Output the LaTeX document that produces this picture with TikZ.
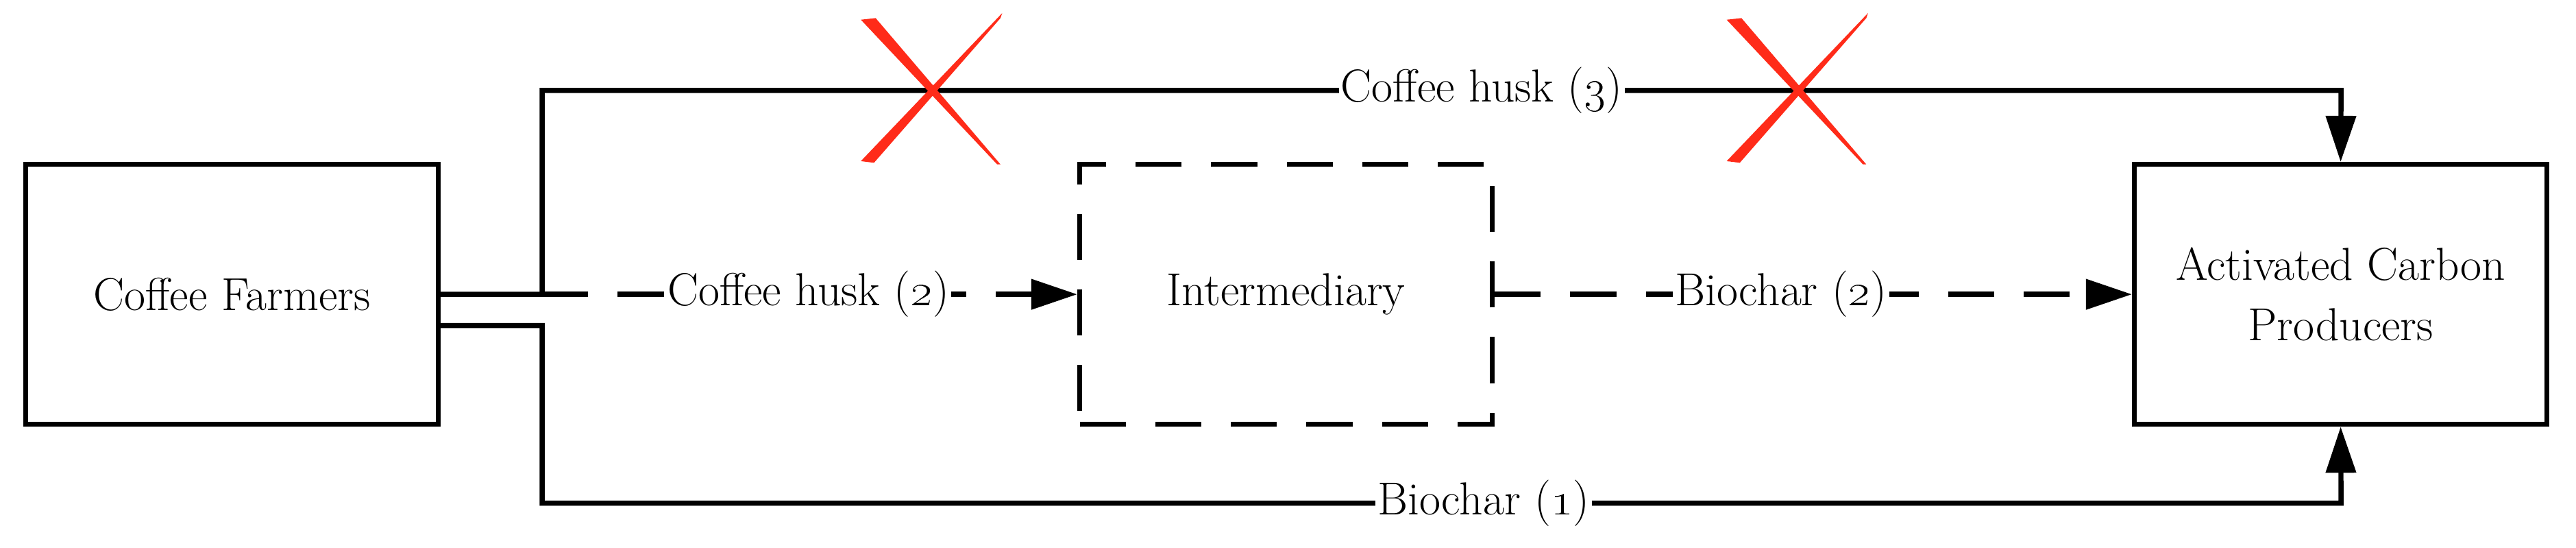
\documentclass[tikz,border=0pt]{standalone}
\usetikzlibrary{arrows.meta}
\begin{document}
\begin{tikzpicture}[x=0.25mm,y=-0.25mm,
  box/.style={draw,line width=2.2pt,minimum width=62.75mm,minimum height=39.5mm,align=center,font=\fontsize{20}{26}\selectfont},
  ln/.style={line width=2.2pt},
  dsh/.style={line width=2.2pt,dash pattern=on 7mm off 4.5mm},
  arr/.style={-{Triangle[length=7mm,width=4.5mm]}},
  lab/.style={fill=white,inner sep=1pt,font=\fontsize{20}{24}\selectfont},
  xmark/.style={fill=red!85!orange!90!white}]
\useasboundingbox (0,0) rectangle (1568,333);
\node[box] (cf) at (141.25,179) {Coffee Farmers};
\node[box,dsh] (im) at (782.75,179) {Intermediary};
\node[box] (ac) at (1424.75,179) {Activated Carbon\\Producers};
\coordinate (t1) at (266.5,179);
\coordinate (b1) at (266.5,198);
% top route
\draw[ln,arr] (t1) -- (330,179) -- (330,55) -- (1425,55) -- (ac.north);
\node[lab] at (902,55) {Coffee husk (\oldstylenums{3})};
% bottom route
\draw[ln,arr] (b1) -- (330,198) -- (330,306) -- (1425,306) -- (ac.south);
\node[lab] at (903,306) {Biochar (\oldstylenums{1})};
% dashed middle
\draw[dsh,arr] (330,179) -- (im.west);
\node[lab] at (492,179) {Coffee husk (\oldstylenums{2})};
\draw[dsh,arr] (im.east) -- (ac.west);
\node[lab] at (1084,179) {Biochar (\oldstylenums{2})};
% red crosses
\foreach \cx in {567,1094}{
  \fill[xmark] (\cx-43,12) -- (\cx-34,11) -- (\cx+42,100) -- (\cx+40,100) -- cycle;
  \fill[xmark] (\cx+43,8) -- (\cx+42,11) -- (\cx-35,99) -- (\cx-43,98) -- cycle;
}
\end{tikzpicture}
\end{document}
